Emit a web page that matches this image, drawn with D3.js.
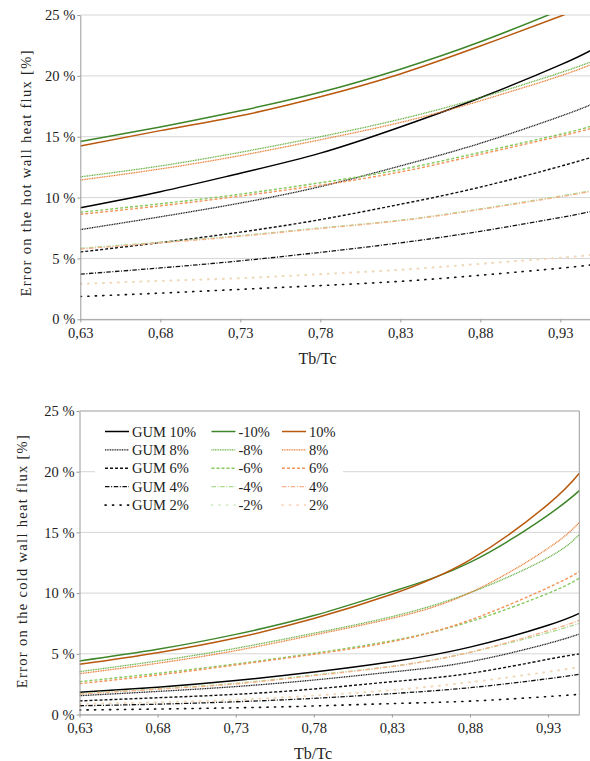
<!DOCTYPE html>
<html><head><meta charset="utf-8">
<script src="https://cdn.jsdelivr.net/npm/d3@7"></script>
<style>
body{margin:0;background:#fff;}
svg{display:block;font-family:"Liberation Serif","DejaVu Serif",serif;}
</style>
</head><body>
<svg id="c" width="590" height="761"></svg>
<script>
// ---------- data ----------
const tbTc = [0.63, 0.68, 0.73, 0.78, 0.83, 0.88, 0.93, 0.95];
const xTickValues = [0.63, 0.68, 0.73, 0.78, 0.83, 0.88, 0.93];
const yTickValues = [0, 5, 10, 15, 20, 25];
const seriesLabels = ["GUM 10%","GUM 8%","GUM 6%","GUM 4%","GUM 2%",
                      "-10%","-8%","-6%","-4%","-2%",
                      "10%","8%","6%","4%","2%"];

// hot wall heat flux error [%]
const hotGum10 = [9.16, 10.48, 12.0, 13.65, 15.8, 18.2, 20.9, 22.16];
const hotGum8  = [7.37, 8.42, 9.55, 10.9, 12.6, 14.46, 16.67, 17.68];
const hotGum6  = [5.53, 6.3, 7.16, 8.19, 9.45, 10.86, 12.57, 13.33];
const hotGum4  = [3.71, 4.22, 4.8, 5.5, 6.28, 7.23, 8.36, 8.88];
const hotGum2  = [1.87, 2.15, 2.46, 2.77, 3.12, 3.62, 4.2, 4.48];
const hotNeg10 = [14.6, 15.8, 17.13, 18.65, 20.55, 22.8, 25.4, 26.5];
const hotNeg8  = [11.7, 12.6, 13.72, 15.0, 16.44, 18.2, 20.26, 21.2];
const hotNeg6  = [8.8, 9.49, 10.28, 11.22, 12.3, 13.72, 15.2, 15.9];
const hotNeg4  = [5.83, 6.33, 6.87, 7.51, 8.14, 9.07, 10.12, 10.58];
const hotNeg2  = [2.93, 3.17, 3.4, 3.73, 4.09, 4.58, 5.08, 5.32];
const hotPos10 = [14.24, 15.5, 16.72, 18.28, 20.16, 22.45, 24.9, 26.0];
const hotPos8  = [11.44, 12.35, 13.45, 14.75, 16.17, 17.95, 20.0, 20.98];
const hotPos6  = [8.63, 9.32, 10.12, 11.02, 12.1, 13.55, 15.05, 15.7];
const hotPos4  = [5.77, 6.28, 6.82, 7.46, 8.1, 9.02, 10.07, 10.52];
const hotPos2  = [2.89, 3.14, 3.36, 3.69, 4.05, 4.54, 5.04, 5.28];

// cold wall heat flux error [%]
const coldGum10 = [1.83, 2.25, 2.8, 3.5, 4.35, 5.55, 7.35, 8.33];
const coldGum8  = [1.55, 1.9, 2.3, 2.84, 3.5, 4.35, 5.85, 6.63];
const coldGum6  = [1.12, 1.38, 1.66, 2.1, 2.7, 3.39, 4.55, 4.98];
const coldGum4  = [0.72, 0.85, 1.05, 1.33, 1.72, 2.21, 2.95, 3.31];
const coldGum2  = [0.37, 0.45, 0.55, 0.7, 0.9, 1.1, 1.48, 1.66];
const coldNeg10 = [4.41, 5.37, 6.6, 8.15, 10.12, 12.53, 16.43, 18.44];
const coldNeg8  = [3.53, 4.41, 5.45, 6.69, 8.06, 10.03, 12.92, 14.84];
const coldNeg6  = [2.7, 3.39, 4.16, 5.04, 6.08, 7.65, 9.98, 11.22];
const coldNeg4  = [1.72, 2.12, 2.57, 3.25, 3.97, 5.12, 6.74, 7.51];
const coldNeg2  = [0.87, 1.02, 1.22, 1.57, 2.02, 2.67, 3.5, 3.87];
const coldPos10 = [4.13, 5.09, 6.3, 7.9, 9.9, 12.73, 17.31, 19.87];
const coldPos8  = [3.36, 4.22, 5.26, 6.55, 7.92, 10.03, 13.69, 15.83];
const coldPos6  = [2.54, 3.25, 4.08, 4.96, 6.0, 7.78, 10.45, 11.76];
const coldPos4  = [1.68, 2.08, 2.52, 3.2, 3.95, 5.12, 6.9, 7.76];
const coldPos2  = [0.85, 1.0, 1.2, 1.55, 2.0, 2.65, 3.53, 3.92];

const hotSeries  = [hotGum10, hotGum8, hotGum6, hotGum4, hotGum2,
                    hotNeg10, hotNeg8, hotNeg6, hotNeg4, hotNeg2,
                    hotPos10, hotPos8, hotPos6, hotPos4, hotPos2];
const coldSeries = [coldGum10, coldGum8, coldGum6, coldGum4, coldGum2,
                    coldNeg10, coldNeg8, coldNeg6, coldNeg4, coldNeg2,
                    coldPos10, coldPos8, coldPos6, coldPos4, coldPos2];

// ---------- styles ----------
const colors = ["#000000","#111111","#111111","#111111","#111111",
                "#3f862a","#62ad3e","#86c95c","#abd98c","#d3ecc1",
                "#b8590e","#e8772a","#f3945a","#f6b089","#fad3b9"];
const dashes = [null, "1,0.7", "3,2", "4.5,1.6,1,1.6", "1.2,6.3"];
const widths = [1.5, 1.3, 1.4, 1.3, 1.6];
const FONT = '"Liberation Serif","DejaVu Serif",serif';

const svg = d3.select("#c");
const fmtX = d => d3.format(".2f")(d).replace(".", ",");
const fmtY = d => d + " %";

function drawPanel(cfg, series, idx) {
  const x = d3.scaleLinear().domain([0.63, 0.95]).range([cfg.x0, cfg.x1]);
  const y = d3.scaleLinear().domain([0, 25]).range([cfg.y0, cfg.y1]);
  const g = svg.append("g");

  g.selectAll("line.grid").data(yTickValues).join("line")
    .attr("x1", cfg.x0).attr("x2", cfg.x1)
    .attr("y1", d => y(d)).attr("y2", d => y(d))
    .attr("stroke", "#d6d6d6").attr("stroke-width", 1);

  const clipId = "clip" + idx;
  svg.append("defs").append("clipPath").attr("id", clipId)
    .append("rect").attr("x", cfg.x0).attr("y", cfg.y1)
    .attr("width", cfg.x1 - cfg.x0).attr("height", cfg.y0 - cfg.y1);

  const line = d3.line().x((d, i) => x(tbTc[i])).y(d => y(d)).curve(d3.curveNatural);
  const lg = g.append("g").attr("clip-path", `url(#${clipId})`);
  series.forEach((vals, k) => {
    const s = k % 5;
    lg.append("path").datum(vals)
      .attr("d", line)
      .attr("fill", "none")
      .attr("stroke", colors[k])
      .attr("stroke-width", widths[s])
      .attr("stroke-dasharray", dashes[s])
      .attr("stroke-linecap", s === 4 ? "round" : "butt");
  });

  const ax = g.append("g").attr("transform", `translate(0,${cfg.y0})`)
    .call(d3.axisBottom(x).tickValues(xTickValues).tickFormat(fmtX).tickSizeInner(3).tickSizeOuter(0).tickPadding(5));
  const ay = g.append("g").attr("transform", `translate(${cfg.x0},0)`)
    .call(d3.axisLeft(y).tickValues(yTickValues).tickFormat(fmtY).tickSizeInner(3).tickSizeOuter(0).tickPadding(2));
  [ax, ay].forEach(a => {
    a.attr("font-family", FONT);
    a.selectAll("path.domain").attr("stroke", "#9a9a9a");
    a.selectAll(".tick line").attr("stroke", "#9a9a9a");
    a.selectAll("text").attr("font-size", 14.5).attr("fill", "#222");
  });
  if (cfg.frame) {
    g.append("line").attr("x1", cfg.x1).attr("x2", cfg.x1).attr("y1", cfg.y1).attr("y2", cfg.y0)
      .attr("stroke", "#9a9a9a");
    g.append("line").attr("x1", cfg.x0).attr("x2", cfg.x1).attr("y1", cfg.y1).attr("y2", cfg.y1)
      .attr("stroke", "#b0b0b0");
  }

  g.append("text").attr("transform", `translate(${cfg.yTitleX},${cfg.yTitleY}) rotate(-90)`)
    .attr("text-anchor", "middle").attr("font-size", 14.5).attr("fill", "#222")
    .attr("font-family", FONT)
    .attr("textLength", cfg.yTitleLen).attr("lengthAdjust", "spacing")
    .text(cfg.yTitle);
  g.append("text").attr("x", cfg.xTitleX).attr("y", cfg.xTitleY)
    .attr("text-anchor", "middle").attr("font-size", 16).attr("fill", "#222")
    .attr("font-family", FONT)
    .text("Tb/Tc");
  return {x, y, g};
}

drawPanel({x0: 80.3, x1: 592.3, y0: 319.3, y1: 15, frame: false,
  yTitle: "Error on the hot wall heat flux [%]", yTitleX: 31, yTitleY: 173.5, yTitleLen: 246,
  xTitleX: 317.5, xTitleY: 364}, hotSeries, 0);

drawPanel({x0: 79.5, x1: 579.3, y0: 714.5, y1: 411, frame: true,
  yTitle: "Error on the cold wall heat flux [%]", yTitleX: 27, yTitleY: 561.7, yTitleLen: 253,
  xTitleX: 313, xTitleY: 759}, coldSeries, 1);

// ---------- legend ----------
const leg = svg.append("g").attr("font-family", FONT);
leg.append("rect").attr("x", 95).attr("y", 419).attr("width", 248).attr("height", 96).attr("fill", "#fff");
const colX = [105, 211.5, 282];
const rowY0 = 431.5, rowStep = 18.4;
seriesLabels.forEach((lab, k) => {
  const c = Math.floor(k / 5), s = k % 5;
  const yy = rowY0 + s * rowStep;
  leg.append("line").attr("x1", colX[c]).attr("x2", colX[c] + 24)
    .attr("y1", yy).attr("y2", yy)
    .attr("stroke", colors[k]).attr("stroke-width", widths[s])
    .attr("stroke-dasharray", dashes[s])
    .attr("stroke-linecap", s === 4 ? "round" : "butt");
  leg.append("text").attr("x", colX[c] + 27).attr("y", yy + 5)
    .attr("font-size", 14.5).attr("fill", "#222").text(lab);
});
</script>
</body></html>
